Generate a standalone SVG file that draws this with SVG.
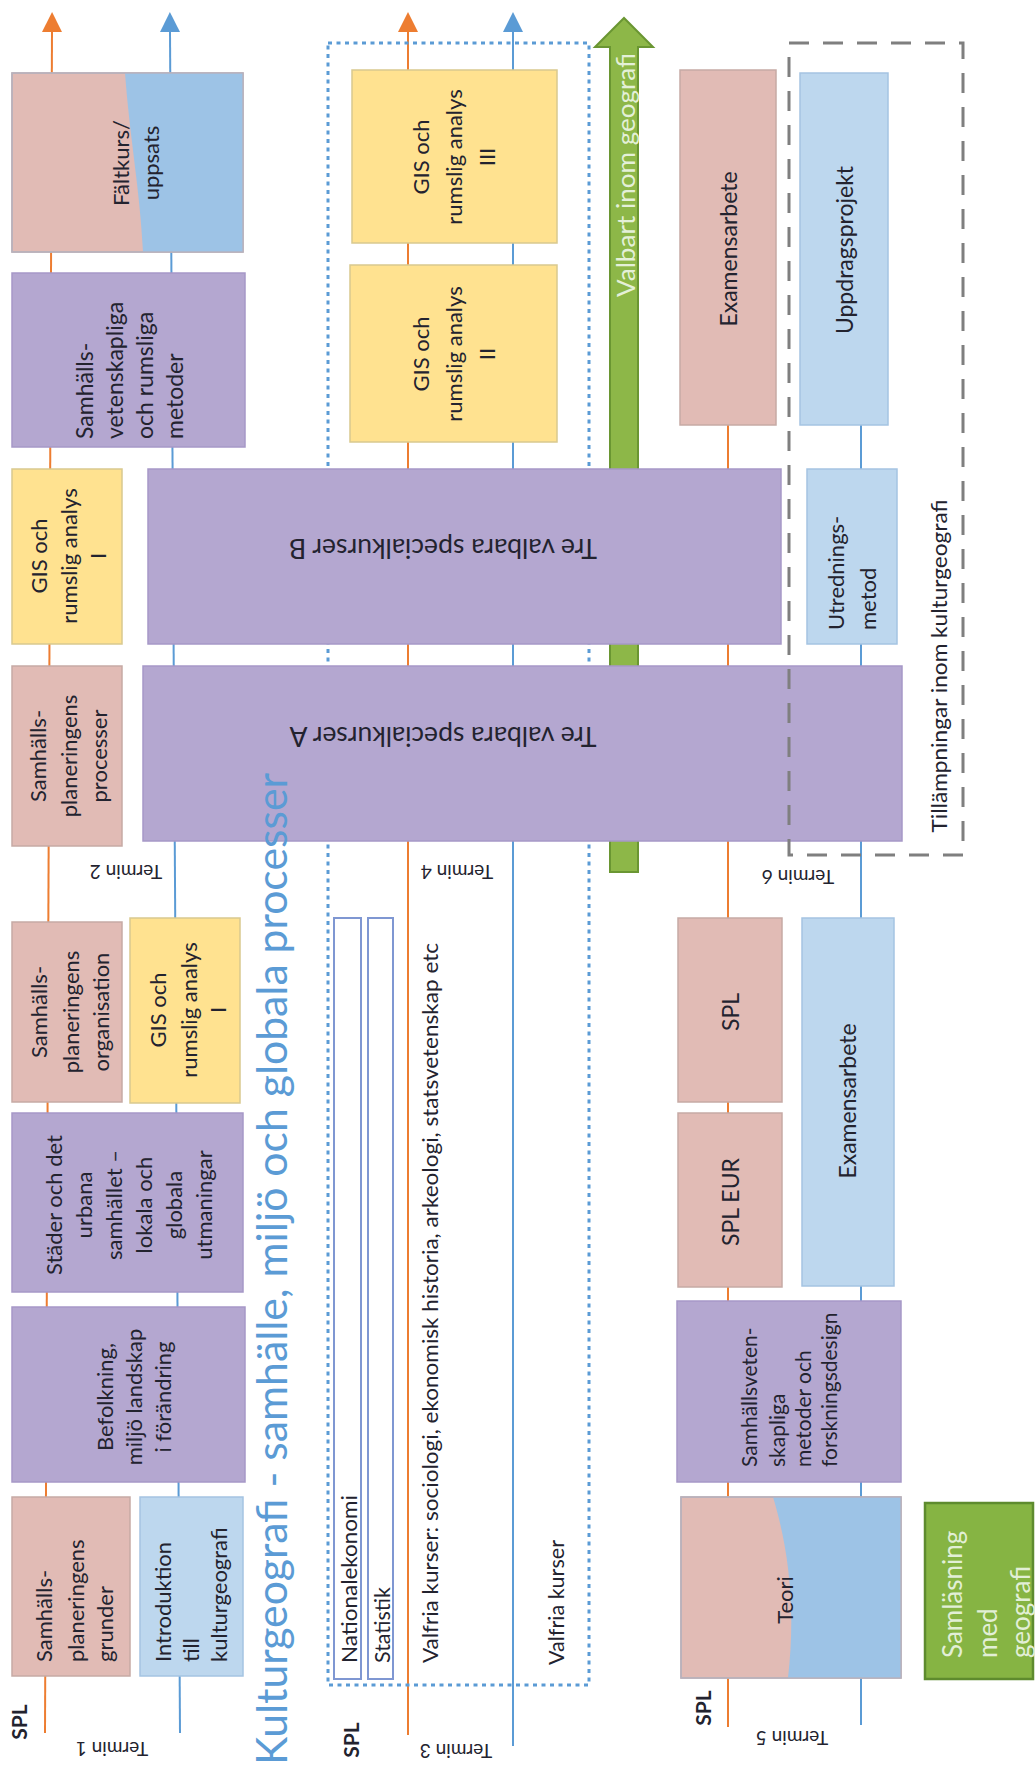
<svg xmlns="http://www.w3.org/2000/svg" width="1035" height="1769" viewBox="0 0 1035 1769">
<defs>
<marker id="arO" markerUnits="userSpaceOnUse" markerWidth="20" markerHeight="20" viewBox="0 0 20 20" refX="1" refY="10" orient="auto"><path d="M0,0 L20,10 L0,20 Z" fill="#ED7D31"/></marker>
<marker id="arB" markerUnits="userSpaceOnUse" markerWidth="20" markerHeight="20" viewBox="0 0 20 20" refX="1" refY="10" orient="auto"><path d="M0,0 L20,10 L0,20 Z" fill="#5B9BD5"/></marker>
</defs>
<style>
.t{font-family:Lato,"Liberation Sans",sans-serif;font-size:22px;fill:#23232f}
.c{text-anchor:middle;dominant-baseline:central}
.s{text-anchor:start;dominant-baseline:central}
.pink{fill:#E1BBB5;stroke:#C6AAA5;stroke-width:1.5}
.purple{fill:#B4A7D0;stroke:#A698C7;stroke-width:1.5}
.yellow{fill:#FFE290;stroke:#D9C98F;stroke-width:1.5}
.lblue{fill:#BDD7EE;stroke:#A5C4E2;stroke-width:1.5}
.mblue{fill:#9DC3E6}
.outline{fill:none;stroke:#B5B3C0;stroke-width:1.5}
.lo{stroke:#ED7D31;stroke-width:2;fill:none}
.lb{stroke:#5B9BD5;stroke-width:2;fill:none}
.term{font-size:19px}
.spl{font-size:21px;font-weight:bold}
.narrow{fill:#fff;stroke:#7F97D2;stroke-width:2}
</style>
<rect width="1035" height="1769" fill="#fff"/>

<g id="connectors">
<line class="lo" x1="45" y1="1733" x2="52" y2="31" marker-end="url(#arO)"/>
<line class="lb" x1="180" y1="1733" x2="170" y2="31" marker-end="url(#arB)"/>
<line class="lo" x1="408" y1="1735" x2="408" y2="31" marker-end="url(#arO)"/>
<line class="lb" x1="513" y1="1746" x2="513" y2="31" marker-end="url(#arB)"/>
<line class="lo" x1="728" y1="1727" x2="728" y2="425"/>
<line class="lb" x1="861" y1="1725" x2="861" y2="425"/>
</g>

<g id="valfria-frame">
<rect x="328" y="43" width="261" height="1642" fill="none" stroke="#5B9BD5" stroke-width="3" stroke-dasharray="4 4.5"/>
</g>

<g id="valbart-arrow">
<path d="M610,872 L610,47 L595,47 L624,18 L653,47 L638,47 L638,872 Z" fill="#8DB748" stroke="#6A9632" stroke-width="2"/>
<text class="t s" style="font-size:25px;fill:#E4F0D8" transform="translate(0,297) rotate(-90)" x="0" y="625" textLength="244" lengthAdjust="spacingAndGlyphs">Valbart inom geografi</text>
</g>

<g id="faltkurs">
<rect class="pink" x="12" y="73" width="231" height="179"/>
<path class="mblue" d="M125,73 C130,140 140,190 143,252 L243,252 L243,73 Z"/>
<rect class="outline" x="12" y="73" width="231" height="179"/>
<text class="t c" transform="translate(0,163) rotate(-90)"><tspan x="0" y="120">Fältkurs/</tspan><tspan x="0" y="150">uppsats</tspan></text>
</g>

<g id="samh-metoder">
<rect class="purple" x="12" y="273" width="233" height="174"/>
<text class="t s" style="font-size:23px" transform="translate(0,439) rotate(-90)"><tspan x="0" y="84">Samhälls-</tspan><tspan x="0" y="114">vetenskapliga</tspan><tspan x="0" y="144">och rumsliga</tspan><tspan x="0" y="174">metoder</tspan></text>
</g>

<g id="gis3">
<rect class="yellow" x="352" y="70" width="205" height="173"/>
<text class="t c" transform="translate(0,157) rotate(-90)"><tspan x="0" y="420">GIS och</tspan><tspan x="0" y="453">rumslig analys</tspan><tspan x="0" y="486">III</tspan></text>
</g>

<g id="gis2">
<rect class="yellow" x="350" y="265" width="207" height="177"/>
<text class="t c" transform="translate(0,354) rotate(-90)"><tspan x="0" y="420">GIS och</tspan><tspan x="0" y="453">rumslig analys</tspan><tspan x="0" y="486">II</tspan></text>
</g>

<g id="examensarbete-6">
<rect class="pink" x="680" y="70" width="96" height="355"/>
<text class="t c" style="font-size:23px" transform="translate(0,249) rotate(-90)" x="0" y="728">Examensarbete</text>
</g>

<g id="uppdragsprojekt">
<rect class="lblue" x="800" y="73" width="88" height="352"/>
<text class="t c" style="font-size:23px" transform="translate(0,250) rotate(-90)" x="0" y="844">Uppdragsprojekt</text>
</g>

<g id="gis1-t2">
<rect class="yellow" x="12" y="469" width="110" height="175"/>
<text class="t c" transform="translate(0,556) rotate(-90)"><tspan x="0" y="38">GIS och</tspan><tspan x="0" y="68">rumslig analys</tspan><tspan x="0" y="97">I</tspan></text>
</g>

<g id="special-b">
<rect class="purple" x="148" y="469" width="633" height="175"/>
<text class="t c" style="font-size:26px" transform="translate(443,549) rotate(180)" x="0" y="0" textLength="308" lengthAdjust="spacingAndGlyphs">Tre valbara specialkurser B</text>
</g>

<g id="utredningsmetod">
<rect class="lblue" x="807" y="469" width="90" height="175"/>
<text class="t s" transform="translate(0,630) rotate(-90)"><tspan x="0" y="835">Utrednings-</tspan><tspan x="0" y="867">metod</tspan></text>
</g>

<g id="samh-processer">
<rect class="pink" x="12" y="666" width="110" height="180"/>
<text class="t c" transform="translate(0,756) rotate(-90)"><tspan x="0" y="37">Samhälls-</tspan><tspan x="0" y="68">planeringens</tspan><tspan x="0" y="98">processer</tspan></text>
</g>

<g id="special-a">
<rect class="purple" x="143" y="666" width="759" height="175"/>
<text class="t c" style="font-size:26px" transform="translate(443,737) rotate(180)" x="0" y="0" textLength="307" lengthAdjust="spacingAndGlyphs">Tre valbara specialkurser A</text>
</g>

<g id="tillampningar">
<rect x="789" y="43" width="174" height="812" fill="none" stroke="#7F7F7F" stroke-width="3" stroke-dasharray="20 14"/>
<text class="t c" transform="translate(0,666) rotate(-90)" x="0" y="938" textLength="333" lengthAdjust="spacingAndGlyphs">Tillämpningar inom kulturgeografi</text>
</g>

<g id="termin-labels">
<text class="t c term" transform="translate(126,872) rotate(180)">Termin 2</text>
<text class="t c term" transform="translate(457,872) rotate(180)">Termin 4</text>
<text class="t c term" transform="translate(798,877) rotate(180)">Termin 6</text>
<text class="t c term" transform="translate(112,1749) rotate(180)">Termin 1</text>
<text class="t c term" transform="translate(456,1751) rotate(180)">Termin 3</text>
<text class="t c term" transform="translate(792,1738) rotate(180)">Termin 5</text>
</g>

<g id="spl-labels">
<text class="t c spl" transform="translate(0,1722) rotate(-90)" x="0" y="18">SPL</text>
<text class="t c spl" transform="translate(0,1740) rotate(-90)" x="0" y="350">SPL</text>
<text class="t c spl" transform="translate(0,1708) rotate(-90)" x="0" y="702">SPL</text>
</g>

<g id="samh-organisation">
<rect class="pink" x="12" y="922" width="110" height="180"/>
<text class="t c" transform="translate(0,1012) rotate(-90)"><tspan x="0" y="38">Samhälls-</tspan><tspan x="0" y="70">planeringens</tspan><tspan x="0" y="100">organisation</tspan></text>
</g>

<g id="gis1-t1">
<rect class="yellow" x="130" y="918" width="110" height="185"/>
<text class="t c" transform="translate(0,1010) rotate(-90)"><tspan x="0" y="157">GIS och</tspan><tspan x="0" y="188">rumslig analys</tspan><tspan x="0" y="217">I</tspan></text>
</g>

<g id="stader">
<rect class="purple" x="12" y="1113" width="231" height="179"/>
<text class="t c" transform="translate(0,1205) rotate(-90)"><tspan x="0" y="53">Städer och det</tspan><tspan x="0" y="83">urbana</tspan><tspan x="0" y="113">samhället –</tspan><tspan x="0" y="143">lokala och</tspan><tspan x="0" y="173">globala</tspan><tspan x="0" y="203">utmaningar</tspan></text>
</g>

<g id="befolkning">
<rect class="purple" x="12" y="1307" width="233" height="175"/>
<text class="t c" transform="translate(0,1397) rotate(-90)"><tspan x="0" y="104">Befolkning,</tspan><tspan x="0" y="133">miljö landskap</tspan><tspan x="0" y="162">i förändring</tspan></text>
</g>

<g id="samh-grunder">
<rect class="pink" x="12" y="1497" width="118" height="179"/>
<text class="t s" transform="translate(0,1662) rotate(-90)"><tspan x="0" y="43">Samhälls-</tspan><tspan x="0" y="75">planeringens</tspan><tspan x="0" y="104">grunder</tspan></text>
</g>

<g id="introduktion">
<rect class="lblue" x="140" y="1497" width="103" height="179"/>
<text class="t s" transform="translate(0,1662) rotate(-90)"><tspan x="0" y="162">Introduktion</tspan><tspan x="0" y="190">till</tspan><tspan x="0" y="218">kulturgeografi</tspan></text>
</g>

<g id="title">
<text class="t" style="font-size:42px;fill:#5B9BD5" transform="translate(287,1765) rotate(-90)" x="0" y="0" textLength="992" lengthAdjust="spacingAndGlyphs">Kulturgeografi - samhälle, miljö och globala processer</text>
</g>

<g id="nationalekonomi">
<rect class="narrow" x="334" y="918" width="27" height="761"/>
<text class="t s" transform="translate(0,1663) rotate(-90)" x="0" y="348" textLength="168" lengthAdjust="spacingAndGlyphs">Nationalekonomi</text>
</g>

<g id="statistik">
<rect class="narrow" x="368" y="918" width="25" height="761"/>
<text class="t s" transform="translate(0,1663) rotate(-90)" x="0" y="381" textLength="76" lengthAdjust="spacingAndGlyphs">Statistik</text>
</g>

<g id="valfria-spl">
<text class="t s" transform="translate(0,1663) rotate(-90)" x="0" y="429" textLength="720" lengthAdjust="spacingAndGlyphs">Valfria kurser: sociologi, ekonomisk historia, arkeologi, statsvetenskap etc</text>
</g>

<g id="valfria-kurser">
<text class="t s" transform="translate(0,1665) rotate(-90)" x="0" y="555" textLength="125" lengthAdjust="spacingAndGlyphs">Valfria kurser</text>
</g>

<g id="spl-t6">
<rect class="pink" x="678" y="918" width="104" height="184"/>
<text class="t c" style="font-size:23px" transform="translate(0,1012) rotate(-90)" x="0" y="730">SPL</text>
</g>

<g id="spl-eur">
<rect class="pink" x="678" y="1113" width="104" height="174"/>
<text class="t c" style="font-size:23px" transform="translate(0,1202) rotate(-90)" x="0" y="730">SPL EUR</text>
</g>

<g id="examensarbete-5">
<rect class="lblue" x="802" y="918" width="92" height="368"/>
<text class="t c" style="font-size:23px" transform="translate(0,1101) rotate(-90)" x="0" y="847">Examensarbete</text>
</g>

<g id="samh-forskningsdesign">
<rect class="purple" x="677" y="1301" width="224" height="181"/>
<text class="t s" style="font-size:21px" transform="translate(0,1467) rotate(-90)"><tspan x="0" y="748">Samhällsveten-</tspan><tspan x="0" y="776">skapliga</tspan><tspan x="0" y="802">metoder och</tspan><tspan x="0" y="828">forskningsdesign</tspan></text>
</g>

<g id="teori">
<rect class="pink" x="681" y="1497" width="220" height="181"/>
<path class="mblue" d="M773,1497 C786,1540 797,1600 788,1678 L901,1678 L901,1497 Z"/>
<rect class="outline" x="681" y="1497" width="220" height="181"/>
<text class="t c" transform="translate(0,1600) rotate(-90)" x="0" y="784">Teori</text>
</g>

<g id="samlasning">
<rect x="925" y="1503" width="108" height="176" fill="#86B443" stroke="#5E8B2E" stroke-width="2.5"/>
<text class="t s" style="font-size:26px;fill:#E2EFD6" transform="translate(0,1658) rotate(-90)"><tspan x="0" y="952">Samläsning</tspan><tspan x="0" y="987">med</tspan><tspan x="0" y="1020">geografi</tspan></text>
</g>
</svg>
